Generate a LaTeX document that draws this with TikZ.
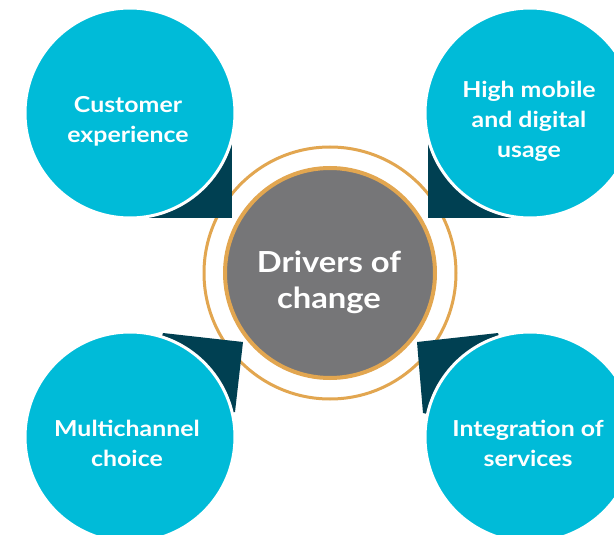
\documentclass[tikz,border=0pt]{standalone}
\usepackage{fontspec}
\setmainfont{Lato}[FakeStretch=1.13]
\definecolor{drvcyan}{RGB}{0,187,216}
\definecolor{drvdark}{RGB}{0,64,82}
\definecolor{drvgray}{RGB}{118,118,120}
\definecolor{drvorange}{RGB}{226,166,80}
\tikzset{
  bubble/.style={circle, fill=drvcyan, draw=white, line width=3pt, minimum size=210pt, inner sep=0pt},
  tail/.style={fill=drvdark},
  core/.style={circle, fill=drvgray, draw=drvorange, line width=4pt, minimum size=210pt, inner sep=0pt},
  ring/.style={draw=drvorange, line width=3pt},
  smalltext/.style={text=white, align=center, font=\bfseries\fontsize{22}{30}\selectfont},
  bigtext/.style={text=white, align=center, font=\bfseries\fontsize{29}{36}\selectfont}
}
\begin{document}
\begin{tikzpicture}[x=1pt,y=-1pt]
\useasboundingbox (0,0) rectangle (614,535);
\clip (0,0) rectangle (614,535);
\fill[white] (0,0) rectangle (614,535);

% centre
\draw[ring] (330,273) circle (126);
\node[core] (core) at (330,273) {};
\node[bigtext] (coretext) at (329,282) {Drivers of\\change};

% tails
\fill[tail] (130,113) -- (232,113) -- (232,218) -- (130,218) -- cycle;
\fill[tail] (530,113) -- (428,113) -- (428,218) -- (530,218) -- cycle;
\fill[tail] (130,437) -- (163,333) -- (243,342) -- (235,412) -- cycle;
\fill[tail] (530,437) -- (498,333) -- (417,342) -- (423,413) -- cycle;

% bubbles
\node[bubble] (tl) at (130,113) {};
\node[bubble] (tr) at (530,113) {};
\node[bubble] (bl) at (130,437) {};
\node[bubble] (br) at (530,437) {};

\node[smalltext] (tltext) at (128,121) {Customer\\experience};
\node[smalltext] (trtext) at (529,121) {High mobile\\and digital\\usage};
\node[smalltext] (bltext) at (127,443) {Multichannel\\choice};
\node[smalltext] (brtext) at (528,443) {Integration of\\services};
\end{tikzpicture}
\end{document}
